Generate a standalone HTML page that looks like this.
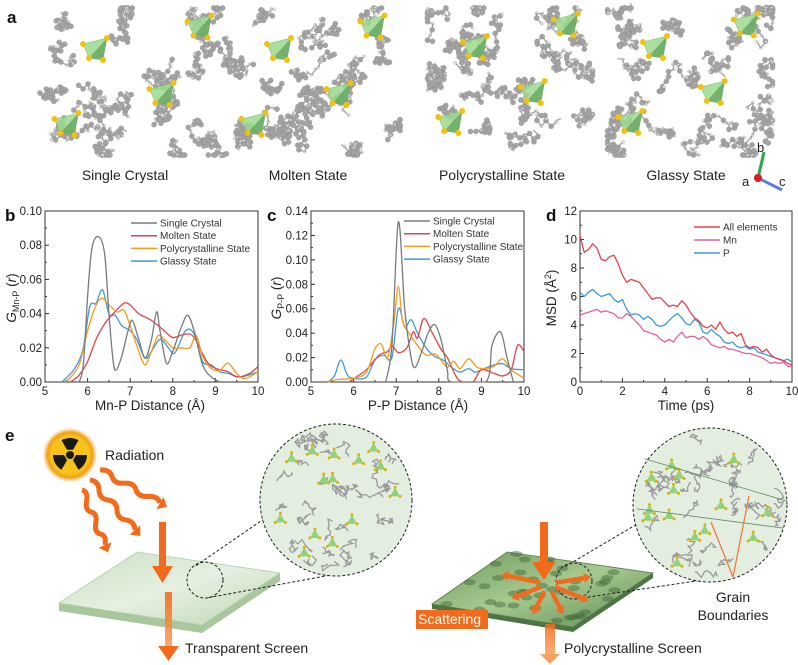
<!DOCTYPE html>
<html><head><meta charset="utf-8">
<style>
html,body{margin:0;padding:0;background:#fff;}
svg{display:block;font-family:"Liberation Sans",Arial,sans-serif;}
</style></head>
<body>
<svg id="fig" width="798" height="665" viewBox="0 0 798 665" xmlns="http://www.w3.org/2000/svg">
<defs>
<radialGradient id="sunG" cx="50%" cy="50%" r="50%"><stop offset="0.6" stop-color="#f7c21a"/><stop offset="0.85" stop-color="#f3a21a"/><stop offset="1" stop-color="#f7d7a8" stop-opacity="0.3"/></radialGradient>
<linearGradient id="plateG" x1="0" y1="0" x2="1" y2="1"><stop offset="0" stop-color="#c9dfc0"/><stop offset="0.5" stop-color="#e6f0e1"/><stop offset="1" stop-color="#bcd6b3"/></linearGradient>
<linearGradient id="polyG" x1="0" y1="0" x2="1" y2="1"><stop offset="0" stop-color="#6f9a5e"/><stop offset="0.5" stop-color="#a6c98f"/><stop offset="1" stop-color="#5f8a52"/></linearGradient>
<linearGradient id="fadeArrow" x1="0" y1="0" x2="0" y2="1"><stop offset="0" stop-color="#f26b1d"/><stop offset="1" stop-color="#f8a060"/></linearGradient>
</defs>
<g id="panelA"></g>
<g id="charts"></g>
<g id="panelE"></g>
</svg>
<script>
// ---------- chart data ----------
const bX_sc=[5.8,5.9,6.0,6.1,6.25,6.4,6.5,6.6,6.67,6.8,6.95,7.05,7.2,7.35,7.5,7.62,7.7,7.85,8.0,8.2,8.35,8.5,8.7,8.9,9.1];
const bY_sc=[0,0.01,0.05,0.078,0.085,0.075,0.04,0.012,0.007,0.015,0.03,0.036,0.025,0.014,0.025,0.041,0.03,0.011,0.018,0.032,0.039,0.03,0.01,0.003,0];
const bX_mo=[5.6,5.8,6.0,6.2,6.4,6.6,6.85,7.0,7.2,7.5,7.8,8.0,8.3,8.5,8.8,9.0,9.3,9.5,9.8,10];
const bY_mo=[0,0.004,0.012,0.025,0.034,0.04,0.046,0.045,0.04,0.036,0.03,0.026,0.028,0.026,0.012,0.008,0.006,0.003,0.005,0.009];
const bX_po=[5.5,5.8,6.0,6.2,6.35,6.5,6.7,6.85,7.0,7.2,7.35,7.5,7.65,7.8,8.0,8.2,8.4,8.55,8.7,8.9,9.1,9.3,9.5,9.7,10];
const bY_po=[0,0.01,0.03,0.045,0.049,0.045,0.041,0.042,0.033,0.018,0.01,0.018,0.027,0.025,0.02,0.02,0.02,0.027,0.015,0.008,0.007,0.011,0.005,0.002,0.006];
const bX_gl=[5.4,5.7,5.9,6.05,6.2,6.35,6.5,6.65,6.8,7.0,7.15,7.35,7.5,7.7,7.9,8.05,8.3,8.5,8.7,8.9,9.1,9.3,9.6,10];
const bY_gl=[0,0.008,0.02,0.044,0.046,0.054,0.04,0.039,0.033,0.03,0.025,0.014,0.018,0.025,0.02,0.017,0.03,0.028,0.012,0.01,0.006,0.005,0.003,0.006];

const cX_sc=[6.75,6.9,7.05,7.2,7.35,7.45,7.6,7.75,7.9,8.05,8.2,8.3,9.1,9.25,9.45,9.6,9.75];
const cY_sc=[0,0.03,0.131,0.06,0.02,0.012,0.025,0.04,0.047,0.035,0.01,0,0,0.03,0.041,0.02,0];
const cX_mo=[5.9,6.1,6.3,6.6,6.8,6.9,7.05,7.25,7.4,7.5,7.65,7.85,8.05,8.2,8.4,8.55,8.8,9.0,9.3,9.5,9.7,9.85,10];
const cY_mo=[0,0.005,0.01,0.022,0.025,0.03,0.024,0.028,0.041,0.036,0.052,0.04,0.027,0.02,0.005,0,0,0.01,0.007,0.005,0.01,0.03,0.025];
const cX_po=[5.4,5.6,6.0,6.3,6.5,6.65,6.8,6.95,7.05,7.15,7.3,7.5,7.7,7.9,8.05,8.2,8.35,8.5,8.7,8.9,9.1,9.3,9.5,9.7,10];
const cY_po=[0,0.002,0.003,0.008,0.027,0.031,0.02,0.05,0.078,0.05,0.04,0.03,0.022,0.023,0.018,0.012,0.017,0.011,0.019,0.012,0.011,0.013,0.019,0.01,0.003];
const cX_gl=[5.4,5.55,5.7,5.85,6.0,6.3,6.5,6.7,6.9,7.05,7.2,7.35,7.5,7.7,7.9,8.1,8.3,8.5,8.7,8.85,9.0,9.3,9.5,9.7,10];
const cY_gl=[0,0.005,0.018,0.006,0.003,0.004,0.018,0.022,0.02,0.06,0.045,0.051,0.04,0.028,0.021,0.018,0.012,0.008,0.011,0.008,0.01,0.014,0.015,0.011,0.01];

const dT=[0,0.2,0.4,0.6,0.8,1.0,1.2,1.4,1.6,1.8,2.0,2.2,2.4,2.6,2.8,3.0,3.2,3.4,3.6,3.8,4.0,4.2,4.4,4.6,4.8,5.0,5.2,5.4,5.6,5.8,6.0,6.2,6.4,6.6,6.8,7.0,7.2,7.4,7.6,7.8,8.0,8.2,8.4,8.6,8.8,9.0,9.2,9.4,9.6,9.8,10];
const dAll=[10.3,9.1,9.3,9.7,9.4,8.6,8.5,8.8,8.9,8.3,7.5,7.0,7.2,7.1,7.0,6.6,6.2,5.8,5.9,5.9,5.6,5.3,5.4,5.3,5.7,5.4,4.9,4.5,4.3,3.9,3.8,4.0,3.7,4.2,3.7,3.4,3.5,3.2,3.4,2.6,2.4,2.5,2.4,2.1,2.3,1.9,1.7,1.6,1.5,1.3,1.2];
const dMn=[4.7,4.8,4.9,5.0,5.1,4.9,5.0,4.9,4.8,4.5,4.5,4.8,4.6,4.3,4.0,3.6,3.5,3.4,3.3,3.0,2.8,3.0,2.8,3.2,3.5,3.1,3.2,3.2,3.0,3.2,3.0,2.6,2.5,2.4,2.5,2.3,2.3,2.2,2.1,2.0,2.0,1.9,1.8,1.7,1.5,1.3,1.4,1.3,1.4,1.1,1.1];
const dP=[6.3,6.0,6.3,6.5,6.2,6.0,6.1,6.2,5.8,5.6,5.8,5.1,4.7,4.8,4.7,4.4,4.6,4.4,4.0,3.9,4.0,4.3,4.6,4.8,4.5,4.1,4.0,4.4,4.2,3.5,3.4,3.7,3.4,3.2,2.8,2.7,2.8,2.5,2.4,2.5,2.3,2.4,2.1,2.0,1.9,1.8,1.7,1.6,1.5,1.6,1.4];

const legendGR=["Single Crystal","Molten State","Polycrystalline State","Glassy State"];
const legendD=["All elements","Mn","P"];
const xTicksGR=[5,6,7,8,9,10];
const yTicksB=[0,0.02,0.04,0.06,0.08,0.10];
const yTicksC=[0,0.02,0.04,0.06,0.08,0.10,0.12,0.14];
const xTicksD=[0,2,4,6,8,10];
const yTicksD=[0,2,4,6,8,10,12];

const NS="http://www.w3.org/2000/svg";
function mk(parent,tag,attrs,txt){const e=document.createElementNS(NS,tag);for(const k in attrs)e.setAttribute(k,attrs[k]);if(txt!==undefined)e.textContent=txt;parent.appendChild(e);return e;}

const C={gray:"#7a7a7a",red:"#e2424b",orange:"#f59a1b",blue:"#3c9ad8",pink:"#e8609a"};

function smoothPath(pts,base){
  const cl=v=>Math.min(base,v);
  let d="M"+pts[0][0].toFixed(1)+","+pts[0][1].toFixed(1);
  for(let i=0;i<pts.length-1;i++){
    const p0=pts[i-1]||pts[i],p1=pts[i],p2=pts[i+1],p3=pts[i+2]||p2;
    const c1=[p1[0]+(p2[0]-p0[0])/6,cl(p1[1]+(p2[1]-p0[1])/6)];
    const c2=[p2[0]-(p3[0]-p1[0])/6,cl(p2[1]-(p3[1]-p1[1])/6)];
    d+="C"+c1[0].toFixed(1)+","+c1[1].toFixed(1)+" "+c2[0].toFixed(1)+","+c2[1].toFixed(1)+" "+p2[0].toFixed(1)+","+p2[1].toFixed(1);
  }
  return d;
}

function makeAxes(g,cfg){
  const {x0,x1,y0,y1,xmin,xmax,ymin,ymax}=cfg;
  const sx=v=>x0+(v-xmin)/(xmax-xmin)*(x1-x0);
  const sy=v=>y1-(v-ymin)/(ymax-ymin)*(y1-y0);
  const frame=mk(g,"rect",{x:x0,y:y0,width:x1-x0,height:y1-y0,fill:"none",stroke:"#333","stroke-width":1});
  
  
  cfg.xticks.forEach((t,i)=>{
    const x=sx(t);
    mk(g,"line",{x1:x,x2:x,y1:y1,y2:y1-4,stroke:"#333"});
    if(i<cfg.xticks.length-1) mk(g,"line",{x1:(x+sx(cfg.xticks[i+1]))/2,x2:(x+sx(cfg.xticks[i+1]))/2,y1:y1,y2:y1-2,stroke:"#333"});
    const tl=mk(g,"text",{x:x,y:y1+13,"font-size":11.5,"text-anchor":"middle",fill:"#222"},cfg.xfmt(t));
    
    
  });
  cfg.yticks.forEach((t,i)=>{
    const y=sy(t);
    mk(g,"line",{x1:x0,x2:x0+4,y1:y,y2:y,stroke:"#333"});
    if(i<cfg.yticks.length-1) mk(g,"line",{x1:x0,x2:x0+2,y1:(y+sy(cfg.yticks[i+1]))/2,y2:(y+sy(cfg.yticks[i+1]))/2,stroke:"#333"});
    const tl=mk(g,"text",{x:x0-3,y:y+4,"font-size":11.5,"text-anchor":"end",fill:"#222"},cfg.yfmt(t));
    
    
  });
  return {sx,sy,base:y1};
}

function series(g,ax,xs,ys,color,name,smooth){
  const pts=xs.map((x,i)=>[ax.sx(x),ax.sy(ys[i])]);
  const d=smooth?smoothPath(pts,ax.base):"M"+pts.map(p=>p[0].toFixed(1)+","+p[1].toFixed(1)).join("L");
  const p=mk(g,"path",{d:d,fill:"none",stroke:color,"stroke-width":1.3,"stroke-linejoin":"round"});
  
  
}

function legend(g,x,y,labels,colors,dy){
  labels.forEach((l,i)=>{
    const yy=y+i*dy;
    const ln=mk(g,"line",{x1:x,x2:x+26,y1:yy,y2:yy,stroke:colors[i],"stroke-width":1.5});
    
    
    const t=mk(g,"text",{x:x+29,y:yy+3.5,"font-size":10,fill:"#333"},l);
    
    
  });
}

const charts=document.getElementById("charts");
const f2=v=>v.toFixed(2);
// Panel b
const gb=mk(charts,"g",{});


const axB=makeAxes(gb,{x0:45,x1:258,y0:211,y1:382,xmin:5,xmax:10,ymin:0,ymax:0.10,xticks:xTicksGR,yticks:yTicksB,xfmt:v=>String(v),yfmt:f2});
series(gb,axB,bX_gl,bY_gl,C.blue,"series-glassy",true);
series(gb,axB,bX_mo,bY_mo,C.red,"series-molten",true);
series(gb,axB,bX_po,bY_po,C.orange,"series-polycrystalline",true);
series(gb,axB,bX_sc,bY_sc,C.gray,"series-single-crystal",true);
legend(gb,131,223,legendGR,[C.gray,C.red,C.orange,C.blue],12.7);
let t=mk(gb,"text",{x:150,y:410,"font-size":13.5,"text-anchor":"middle",fill:"#222"},"Mn-P Distance (Å)");

t=mk(gb,"text",{transform:"translate(16,298) rotate(-90)","font-size":13.5,"text-anchor":"middle",fill:"#222"});
t.innerHTML='<tspan font-style="italic">G</tspan><tspan font-size="9" dy="3">Mn-P</tspan><tspan dy="-3"> (</tspan><tspan font-style="italic">r</tspan>)';


// Panel c
const gc=mk(charts,"g",{});


const axC=makeAxes(gc,{x0:311,x1:524,y0:211,y1:382,xmin:5,xmax:10,ymin:0,ymax:0.14,xticks:xTicksGR,yticks:yTicksC,xfmt:v=>String(v),yfmt:f2});
series(gc,axC,cX_gl,cY_gl,C.blue,"series-glassy",true);
series(gc,axC,cX_mo,cY_mo,C.red,"series-molten",true);
series(gc,axC,cX_po,cY_po,C.orange,"series-polycrystalline",true);
series(gc,axC,cX_sc,cY_sc,C.gray,"series-single-crystal",true);
legend(gc,404,221,legendGR,[C.gray,C.red,C.orange,C.blue],12.7);
t=mk(gc,"text",{x:418,y:410,"font-size":13.5,"text-anchor":"middle",fill:"#222"},"P-P Distance (Å)");

t=mk(gc,"text",{transform:"translate(281,298) rotate(-90)","font-size":13.5,"text-anchor":"middle",fill:"#222"});
t.innerHTML='<tspan font-style="italic">G</tspan><tspan font-size="9" dy="3">P-P</tspan><tspan dy="-3"> (</tspan><tspan font-style="italic">r</tspan>)';


// Panel d
const gd=mk(charts,"g",{});


const axD=makeAxes(gd,{x0:580,x1:792,y0:211,y1:382,xmin:0,xmax:10,ymin:0,ymax:12,xticks:xTicksD,yticks:yTicksD,xfmt:v=>String(v),yfmt:v=>String(v)});
series(gd,axD,dT,dMn,C.pink,"series-mn",false);
series(gd,axD,dT,dP,C.blue,"series-p",false);
series(gd,axD,dT,dAll,C.red,"series-all-elements",false);
legend(gd,694,227,legendD,[C.red,C.pink,C.blue],13);
t=mk(gd,"text",{x:686,y:410,"font-size":13.5,"text-anchor":"middle",fill:"#222"},"Time (ps)");

t=mk(gd,"text",{transform:"translate(556,298) rotate(-90)","font-size":13.5,"text-anchor":"middle",fill:"#222"});
t.innerHTML='MSD (Å<tspan font-size="9" dy="-5">2</tspan><tspan dy="5">)</tspan>';


// Panel letters
[["a",7,23],["b",5,221],["c",267,221],["d",546,221],["e",5,441]].forEach(([l,x,y])=>{
  const e=mk(document.getElementById("fig"),"text",{x:x,y:y,"font-size":17,"font-weight":"bold",fill:"#111"},l);
  
  
});

// ---------- Panel a: molecular clusters (decorative) ----------
const A=document.getElementById("panelA");
let seed=12345;function rnd(){seed=(seed*16807)%2147483647;return seed/2147483647;}
const clusters=[{cx:135,cy:80,w:190,h:150,label:"Single Crystal",lx:125},{cx:315,cy:80,w:170,h:150,label:"Molten State",lx:308},{cx:510,cy:78,w:165,h:150,label:"Polycrystalline State",lx:502},{cx:690,cy:78,w:165,h:150,label:"Glassy State",lx:686}];
clusters.forEach((c,ci)=>{
  const g=mk(A,"g",{});
  
  
  for(let k=0;k<24;k++){
    let x=c.cx+(rnd()-0.5)*c.w,y=c.cy+(rnd()-0.5)*c.h;
    let px=x,py=y;
    for(let j=0;j<26;j++){
      x+=(rnd()-0.5)*12;y+=(rnd()-0.5)*12;
      x=Math.max(c.cx-c.w/2,Math.min(c.cx+c.w/2,x));y=Math.max(8,Math.min(155,y));
      mk(g,"line",{x1:px.toFixed(1),y1:py.toFixed(1),x2:x.toFixed(1),y2:y.toFixed(1),stroke:"#9a9a9a","stroke-width":1.2});
      const h=rnd()<0.4;
      mk(g,"circle",{cx:x.toFixed(1),cy:y.toFixed(1),r:h?1.5:2.6,fill:h?"#e0e0e0":"#a5a5a5",stroke:"#888","stroke-width":0.3});
      px=x;py=y;
    }
  }
  const tets=[[-0.2,-0.2],[0.35,-0.35],[0.15,0.1],[-0.35,0.3]];
  tets.forEach(([dx,dy])=>{
    const x=c.cx+dx*c.w,y=c.cy+dy*c.h;
    mk(g,"polygon",{points:`${x-14},${y-6} ${x+10},${y-12} ${x+6},${y+10} ${x-8},${y+8}`,fill:"#9cd98e","fill-opacity":0.85,stroke:"#7bbf70","stroke-width":0.5});
    mk(g,"polygon",{points:`${x+10},${y-12} ${x+6},${y+10} ${x-8},${y+8}`,fill:"#5e9c5a","fill-opacity":0.7});
    [[x-14,y-6],[x+10,y-12],[x+6,y+10],[x-8,y+8]].forEach(p=>mk(g,"circle",{cx:p[0],cy:p[1],r:3,fill:"#f2c011"}));
  });
  const lt=mk(A,"text",{x:c.lx,y:180,"font-size":14,"text-anchor":"middle",fill:"#222"},c.label);
  
  
});
// axis triad
const tri=mk(A,"g",{});


mk(tri,"line",{x1:758,y1:178,x2:764,y2:152,stroke:"#2aa84a","stroke-width":3});
mk(tri,"line",{x1:758,y1:178,x2:782,y2:190,stroke:"#5a7be0","stroke-width":3});
mk(tri,"circle",{cx:758,cy:178,r:4,fill:"#d42020"});
mk(tri,"text",{x:757,y:152,"font-size":13,fill:"#222"},"b");
mk(tri,"text",{x:742,y:186,"font-size":13,fill:"#222"},"a");
mk(tri,"text",{x:779,y:186,"font-size":13,fill:"#222"},"c");

// ---------- Panel e ----------
const E=document.getElementById("panelE");
function g_(name){const g=mk(E,"g",{});return g;}
const rad=g_("radiation-icon");
mk(rad,"circle",{cx:70,cy:455,r:27,fill:"url(#sunG)"});
mk(rad,"circle",{cx:70,cy:455,r:20,fill:"#f7c21a"});
for(let i=0;i<3;i++){const a0=(-90+i*120-30)*Math.PI/180,a1=(-90+i*120+30)*Math.PI/180;
  mk(rad,"path",{d:`M${70+6*Math.cos(a0)},${455+6*Math.sin(a0)}L${70+17*Math.cos(a0)},${455+17*Math.sin(a0)}A17,17 0 0 1 ${70+17*Math.cos(a1)},${455+17*Math.sin(a1)}L${70+6*Math.cos(a1)},${455+6*Math.sin(a1)}Z`,fill:"#1a1a1a"});}
mk(rad,"circle",{cx:70,cy:455,r:4,fill:"#1a1a1a"});
t=mk(E,"text",{x:105,y:460,"font-size":14,fill:"#222"},"Radiation");

const wv=g_("radiation-waves");
[[100,470,160,503],[90,480,135,530],[82,490,105,545]].forEach(([x1,y1,x2,y2])=>{
  const n=5;let d=`M${x1},${y1}`;const dx=(x2-x1)/n,dy=(y2-y1)/n;
  for(let i=0;i<n;i++){d+=`Q${x1+dx*(i+0.5)+(i%2?-4:4)},${y1+dy*(i+0.5)+(i%2?4:-4)} ${x1+dx*(i+1)},${y1+dy*(i+1)}`;}
  mk(wv,"path",{d:d,fill:"none",stroke:"#f26b1d","stroke-width":5});
  const ang=Math.atan2(y2-y1,x2-x1);
  const hx=x2+8*Math.cos(ang),hy=y2+8*Math.sin(ang);
  mk(wv,"polygon",{points:`${hx},${hy} ${x2+7*Math.cos(ang+1.57)},${y2+7*Math.sin(ang+1.57)} ${x2-7*Math.cos(ang+1.57)},${y2-7*Math.sin(ang+1.57)}`,fill:"#f26b1d"});
});
const pl=g_("transparent-screen-plate");
mk(pl,"polygon",{points:"59,603 59,611 202,633 280,581 280,573 202,625",fill:"#a8c79c"});
mk(pl,"polygon",{points:"59,603 137,552 280,573 202,625",fill:"url(#plateG)",stroke:"#b5cfa9","stroke-width":0.8});
const ar=g_("incident-arrow-transparent");
mk(ar,"rect",{x:159,y:522,width:7,height:45,fill:"#f26b1d"});
mk(ar,"polygon",{points:"152,566 173,566 162.5,583",fill:"#f26b1d"});
mk(ar,"rect",{x:165,y:592,width:7,height:55,fill:"url(#fadeArrow)","fill-opacity":0.9});
mk(ar,"polygon",{points:"158,646 179,646 168.5,661",fill:"#f26b1d"});
t=mk(E,"text",{x:185,y:653,"font-size":14,fill:"#222"},"Transparent Screen");

function zoomCircle(name,sx,sy,sr,bx,by,br,grain){
  const g=g_(name);
  mk(g,"circle",{cx:sx,cy:sy,r:sr,fill:"none",stroke:"#222","stroke-width":1,"stroke-dasharray":"3,2"});
  mk(g,"line",{x1:sx-sr*0.5,y1:sy-sr*0.8,x2:bx-br*0.95,y2:by+br*0.25,stroke:"#222","stroke-dasharray":"3,2"});
  mk(g,"line",{x1:sx+sr*0.2,y1:sy+sr*0.98,x2:bx+br*0.4,y2:by+br*0.9,stroke:"#222","stroke-dasharray":"3,2"});
  mk(g,"circle",{cx:bx,cy:by,r:br,fill:"#e4eee0"});
  for(let k=0;k<40;k++){const a=rnd()*6.283,r=Math.sqrt(rnd())*(br-8);
    let x=bx+r*Math.cos(a),y=by+r*Math.sin(a);let d=`M${x.toFixed(1)},${y.toFixed(1)}`;
    for(let j=0;j<10;j++){x+=(rnd()-0.5)*9;y+=(rnd()-0.5)*9;
      if(Math.hypot(x-bx,y-by)>br-3){x=bx+(x-bx)*0.9;y=by+(y-by)*0.9;}
      d+=`L${x.toFixed(1)},${y.toFixed(1)}`;}
    mk(g,"path",{d:d,fill:"none",stroke:"#9a9a9a","stroke-width":1.3});}
  for(let k=0;k<14;k++){const a=rnd()*6.283,r=Math.sqrt(rnd())*(br-10),x=bx+r*Math.cos(a),y=by+r*Math.sin(a);
    mk(g,"polygon",{points:`${x-5},${y+4} ${x+5},${y+4} ${x},${y-5}`,fill:"#8fd47a"});
    mk(g,"circle",{cx:x-5,cy:y+4,r:1.5,fill:"#e0b000"});mk(g,"circle",{cx:x+5,cy:y+4,r:1.5,fill:"#e0b000"});mk(g,"circle",{cx:x,cy:y-5,r:1.5,fill:"#e0b000"});}
  if(grain){mk(g,"line",{x1:bx-br*0.85,y1:by-br*0.6,x2:bx+br,y2:by-br*0.05,stroke:"#5a8a5a","stroke-width":0.8});
    mk(g,"line",{x1:bx-br*0.95,y1:by+0.05*br,x2:bx+br*0.95,y2:by+br*0.3,stroke:"#5a8a5a","stroke-width":0.8});}
  mk(g,"circle",{cx:bx,cy:by,r:br,fill:"none",stroke:"#222","stroke-width":1,"stroke-dasharray":"3,2"});
}
zoomCircle("zoom-transparent",205,580,18,336,500,76,false);
const pp=g_("polycrystalline-screen-plate");
mk(pp,"polygon",{points:"432,604 432,609 573,632 653,578 653,573 573,627",fill:"#4d7444"});
mk(pp,"polygon",{points:"432,604 507,552 653,573 573,627",fill:"url(#polyG)",stroke:"#587f4d","stroke-width":0.8});
for(let k=0;k<40;k++){const u=rnd(),v=rnd();const x=432+u*(507-432)+v*(573-432),y=604+u*(552-604)+v*(627-604);
  mk(pp,"ellipse",{cx:x.toFixed(1),cy:y.toFixed(1),rx:6,ry:3,fill:"#3f6437","fill-opacity":0.45});}
zoomCircle("zoom-polycrystalline",574,581,18,710,505,77,true);
const gbArrows=g_("grain-boundary-arrows");
mk(gbArrows,"line",{x1:733,y1:577,x2:711,y2:522,stroke:"#f07a3a","stroke-width":1.3});
mk(gbArrows,"line",{x1:733,y1:577,x2:749,y2:496,stroke:"#f07a3a","stroke-width":1.3});
t=mk(E,"text",{x:733,y:602,"font-size":14,"text-anchor":"middle",fill:"#222"},"Grain");

mk(E,"text",{x:733,y:620,"font-size":14,"text-anchor":"middle",fill:"#222"},"Boundaries");
const pa=g_("scattering-arrows");
mk(pa,"rect",{x:540,y:522,width:8,height:42,fill:"#f26b1d"});
mk(pa,"polygon",{points:"532,562 556,562 544,580",fill:"#f26b1d"});
[[-40,-8],[-30,12],[-12,24],[12,24],[34,14],[36,-6]].forEach(([dx,dy])=>{
  const x0=548,y0=584,L=Math.hypot(dx,dy),ux=dx/L,uy=dy/L;
  const x1=x0+8*ux,y1=y0+8*uy,x2=x0+dx,y2=y0+dy;
  mk(pa,"line",{x1:x1,y1:y1,x2:x2,y2:y2,stroke:"#f26b1d","stroke-width":4.5});
  mk(pa,"polygon",{points:`${x2+7*ux},${y2+7*uy} ${x2-5*uy},${y2+5*ux} ${x2+5*uy},${y2-5*ux}`,fill:"#f26b1d"});
});
mk(pa,"rect",{x:545,y:624,width:10,height:32,fill:"url(#fadeArrow)","fill-opacity":0.85});
mk(pa,"polygon",{points:"540,654 560,654 550,664",fill:"#f8a060"});
const sb=g_("scattering-label-box");
mk(sb,"rect",{x:416,y:610,width:72,height:19,fill:"#f26b1d"});
t=mk(E,"text",{x:418,y:624,"font-size":14,fill:"#fff"},"Scattering");

t=mk(E,"text",{x:564,y:653,"font-size":14,fill:"#222"},"Polycrystalline Screen");

</script>
</body></html>
